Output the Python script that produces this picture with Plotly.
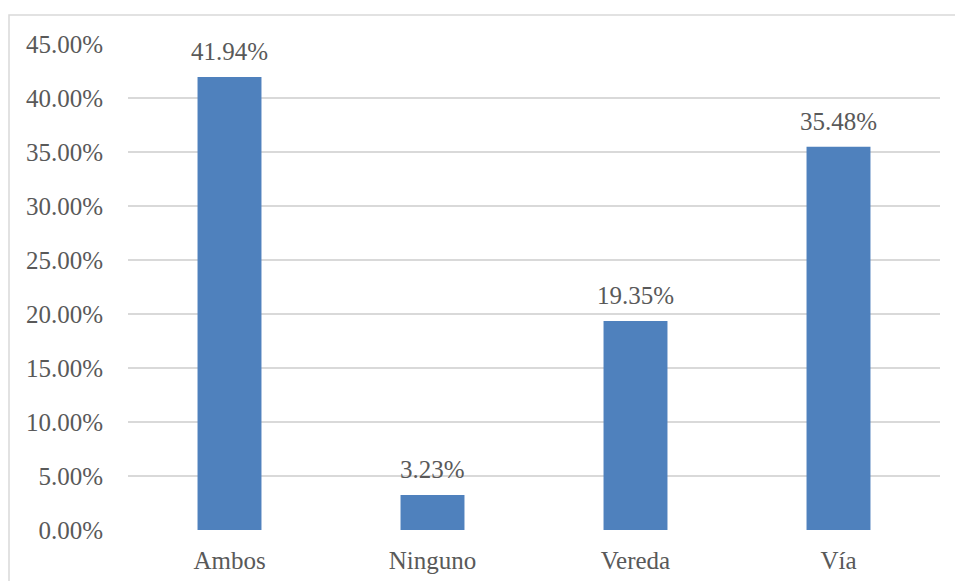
import plotly.graph_objects as go

categories = ["Ambos", "Ninguno", "Vereda", "Vía"]
values = [41.94, 3.23, 19.35, 35.48]
labels = ["41.94%", "3.23%", "19.35%", "35.48%"]
tick_vals = [0, 5, 10, 15, 20, 25, 30, 35, 40, 45]
tick_text = ["0.00%", "5.00%", "10.00%", "15.00%", "20.00%", "25.00%",
             "30.00%", "35.00%", "40.00%", "45.00%"]

FONT = "Liberation Serif"
TXT = "#595959"
FS = 25

fig = go.Figure(go.Bar(
    x=categories, y=values,
    marker=dict(color="#4F81BD", line=dict(width=0)),
    cliponaxis=False,
))

for c, v, t in zip(categories, values, labels):
    fig.add_annotation(x=c, y=v, text=t, showarrow=False, yanchor="bottom",
                       yshift=10, font=dict(family=FONT, size=FS, color=TXT))

W, H = 955, 581
L, R, T, B = 128, 15, 44, 51
pw = W - L - R
ph = H - T - B

fig.update_layout(
    width=W, height=H,
    margin=dict(l=L, r=R, t=T, b=B),
    paper_bgcolor="white", plot_bgcolor="white",
    bargap=0.685,
    showlegend=False,
    font=dict(family=FONT, size=FS, color=TXT),
    xaxis=dict(showgrid=False, showline=False, ticks="outside",
               ticklen=8, tickcolor="rgba(0,0,0,0)", automargin=False,
               tickfont=dict(family=FONT, size=FS, color=TXT)),
    yaxis=dict(range=[0, 45], tickvals=tick_vals, ticktext=tick_text,
               showgrid=True, gridcolor="#D9D9D9", gridwidth=1.5,
               zeroline=False, showline=False, ticks="outside",
               ticklen=19, tickcolor="rgba(0,0,0,0)", automargin=False,
               tickfont=dict(family=FONT, size=FS, color=TXT)),
    shapes=[dict(type="rect", xref="paper", yref="paper",
                 x0=(9 - L) / pw, x1=1.2, y0=-0.3, y1=1 + (T - 15) / ph,
                 line=dict(color="#D9D9D9", width=1.5), layer="below")],
)

fig.write_html("out.html")
